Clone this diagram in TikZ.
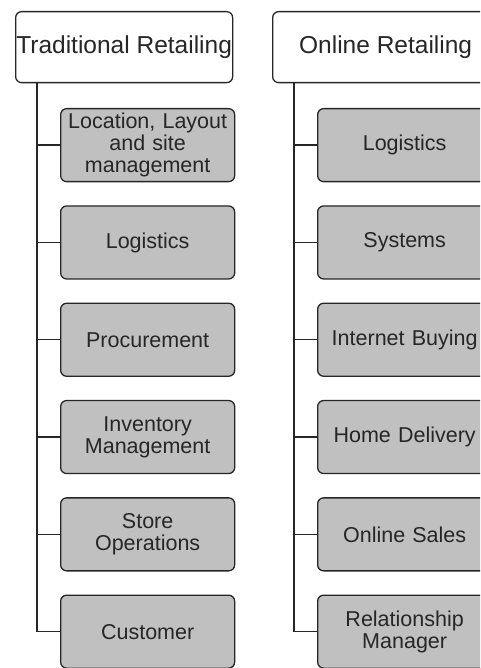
\documentclass[tikz,border=0pt]{standalone}
\usepackage{fontspec}
\setmainfont{Liberation Sans}
\usetikzlibrary{positioning,calc}
\definecolor{boxGray}{HTML}{C0C0C0}
\definecolor{lineGray}{HTML}{262626}

\begin{document}
\begin{tikzpicture}[x=1pt, y=1pt,
		headBox/.style={
				draw=lineGray, fill=white, rounded corners=6pt,
				line width=1.3pt, minimum height=71pt, inner sep=0pt,
				text=lineGray, font=\fontsize{24.5}{26}\selectfont
			},
		itemBox/.style={
				draw=lineGray, fill=boxGray, rounded corners=6pt,
				line width=1.3pt, minimum width=174pt, minimum height=73pt,
				inner sep=0pt, text width=172pt, align=center,
				text=lineGray, font=\fontsize{21.5}{22}\selectfont
			},
		trunkLine/.style={draw=lineGray, line width=1.3pt}
	]
	\useasboundingbox (0,0) rectangle (480,-668);
	\clip (0,0) rectangle (480,-668);

	% Left tree
	\node[headBox, minimum width=217pt, anchor=north west] (LH) at (15,-11) {Traditional Retailing};
	\node[itemBox, below=24.7pt of LH.south west, anchor=north west, xshift=45pt] (L1) {Location, Layout\\and site\\management};
	\node[itemBox, below=23pt of L1] (L2) {Logistics};
	\node[itemBox, below=23pt of L2] (L3) {Procurement};
	\node[itemBox, below=23pt of L3] (L4) {Inventory\\Management};
	\node[itemBox, below=23pt of L4] (L5) {Store\\Operations};
	\node[itemBox, below=23pt of L5] (L6) {Customer};

	\coordinate (LT) at ($(LH.south west)+(22,0)$);
	\draw[trunkLine] (LT) |- (L6.west);
	\foreach \i in {1,...,5}
		\draw[trunkLine] (LT |- L\i.west) -- (L\i.west);

	% Right tree
	\node[headBox, minimum width=226pt, anchor=north west] (RH) at (272,-11) {Online Retailing};
	\node[itemBox, below=24.7pt of RH.south west, anchor=north west, xshift=45pt] (R1) {Logistics};
	\node[itemBox, below=23pt of R1] (R2) {Systems};
	\node[itemBox, below=23pt of R2] (R3) {Internet Buying};
	\node[itemBox, below=23pt of R3] (R4) {Home Delivery};
	\node[itemBox, below=23pt of R4] (R5) {Online Sales};
	\node[itemBox, below=23pt of R5] (R6) {Relationship\\Manager};

	\coordinate (RT) at ($(RH.south west)+(22,0)$);
	\draw[trunkLine] (RT) |- (R6.west);
	\foreach \i in {1,...,5}
		\draw[trunkLine] (RT |- R\i.west) -- (R\i.west);
\end{tikzpicture}
\end{document}
